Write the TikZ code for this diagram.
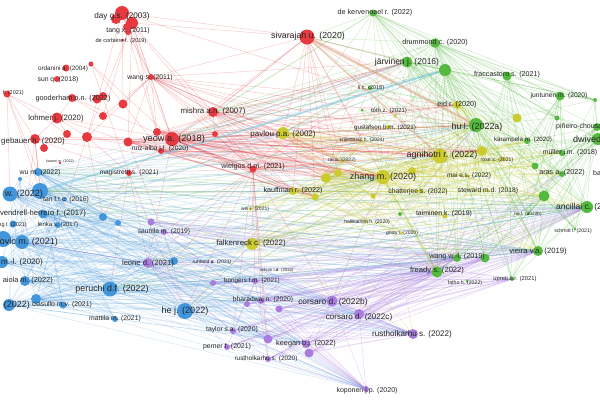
\documentclass[tikz,border=0pt]{standalone}
\usepackage{fontspec}
\setmainfont{Liberation Sans}
\definecolor{cR}{RGB}{231,58,64}
\definecolor{cG}{RGB}{84,186,62}
\definecolor{cB}{RGB}{66,150,220}
\definecolor{cY}{RGB}{203,203,45}
\definecolor{cP}{RGB}{170,124,224}
\definecolor{labc}{RGB}{38,38,38}
\definecolor{cT}{RGB}{120,200,215}
\definecolor{cO}{RGB}{232,170,140}
\tikzset{
  lab/.style={inner sep=0pt,text=labc},
  dot/.style={circle,inner sep=0pt,draw=none},
  eR/.style={draw=cR,line width=0.5pt,draw opacity=0.26},
  eG/.style={draw=cG,line width=0.5pt,draw opacity=0.26},
  eB/.style={draw=cB,line width=0.5pt,draw opacity=0.22},
  eY/.style={draw=cY,line width=0.5pt,draw opacity=0.3},
  eP/.style={draw=cP,line width=0.5pt,draw opacity=0.28},
}
\newcommand\vl[4]{\node[lab,font=\fontsize{#2}{#2}\selectfont] (#1-l) at (#3) {#4};}
\newcommand\vle[4]{\node[lab,anchor=east,font=\fontsize{#2}{#2}\selectfont] (#1-l) at (#3) {#4};}
\newcommand\vlw[4]{\node[lab,anchor=west,font=\fontsize{#2}{#2}\selectfont] (#1-l) at (#3) {#4};}
\begin{document}
\begin{tikzpicture}[x=1pt,y=-1pt]
\useasboundingbox (0,0) rectangle (600,400);
\fill[white] (0,0) rectangle (600,400);
\clip (0,0) rectangle (600,400);
% ---------- coordinates ----------
\foreach \n/\x/\y in {day/122/13,r1b/132/23,r1c/116/19,r1d/127/27,tang/128/32,decorb/123/40,ordanini/66/68,rsmall/91/64,sun/57/79,wangs/151/77,redf/7/94,good/72/98,g2/97/99,g3/103/96,r123/123/104,lohmer/57/118,r103/103/116,mishra/213/112,siva/307/37,gebauer/35/139,geb2/44/148,r67/67/134,r87/87/137,r128/128/142,yeow/172/139,r157/157/132,karanri/60/163,ruiz/161/151,magis/129/173,wielgos/253/169,r215/215/134,
pavlou/283/133,krij/362/141,rai/342/161,y326/326/178,y338/338/173,zhang/383/177,kauff/293/191,y315/315/197,y373/373/196,chatt/420/191,wei/250/209,halli/367/222,gnizy/402/233,falk/252/244,agni/440/156,y482/482/151,y412/412/171,rose/503/159,mai/469/176,steward/488/191,taim/445/216,eid/457/105,y517/517/118,toth/395/116,gust/388/127,wilson/277/270,
dekerv/373/13,jarv/407/62,g445/445/70,drum/435/43,licc/370/88,g362/362/110,fracc/507/76,junt/560/96,g595/595/100,pin/557/118,pin2/597/127,hula/476/125,karam/527/141,dwiv/598/139,muller/562/153,g535/535/166,aras/562/174,g544/544/196,anc/587/207,hulb/528/214,schmitt/575/229,g400/400/214,wangw/457/258,g485/485/258,vieira/538/251,fready/437/272,fatho/467/281,upreti/512/279,
wum/38/172,b10/10/194,b40/40/191,b20/20/179,tan/65/199,vend/43/214,b13/13/224,lenka/58/225,b103/103/217,b118/118/223,b3/3/239,b20b/22/242,bml/2/262,b174/174/261,paiola/25/281,b9/9/305,b36/36/299,ciasullo/63/305,peruchi/110/289,mattila/115/319,hej/185/311,
p151/151/222,saunila/164/232,leone/148/263,ruhland/212/262,bong1/213/283,bong/255/281,bhar1/247/304,bhar/261/301,p279/279/309,corsb/332/301,corsc/359/314,taylor/233/331,p268/268/339,keegan/306/344,keeg2/309/353,pemer/227/347,rust20/268/359,koponen/366/389,rust22/413/334}
  {\coordinate (\n) at (\x,\y);}
% ---------- connectors ----------
% green, dense right part
\foreach \a in {drum,jarv,g445,fracc,junt,hula,dwiv,anc,g544,pin2}{\foreach \b in {karam,muller,aras,g535,hulb,schmitt,vieira,wangw,g485,fready,upreti,pin,g595}{\draw[eG] (\a)--(\b);}}
\foreach \b in {g595,junt,fracc,drum,hula,g445,anc,dwiv,jarv}{\draw[eG] (dekerv)--(\b);}
\foreach \b in {junt,g595,fracc,pin,pin2,g445,jarv}{\draw[eG] (drum)--(\b);}
\foreach \b in {fracc,junt,g595,g445}{\draw[eG] (jarv)--(\b);}
\foreach \a in {jarv,g445,hula,drum,dekerv,licc}{\foreach \b in {agni,zhang,eid,y517,y482,rose,siva,mishra,pavlou,y326,yeow,chatt}{\draw[eG] (\a)--(\b);}}
\foreach \a in {hula,anc,g544,dwiv,vieira}{\foreach \b in {b40,wum,vend,peruchi,falk}{\draw[eG] (\a)--(\b);}}
\foreach \a in {g400,g362}{\foreach \b in {anc,hula,agni,zhang,fready}{\draw[eG] (\a)--(\b);}}
% yellow
\foreach \a in {pavlou,zhang,agni,y326,kauff,falk,y482,eid,y412}{\foreach \b in {hula,anc,g544,vieira,wangw,fready,karam,muller,g535,aras,rose,mai,steward}{\draw[eY] (\a)--(\b);}}
\foreach \a in {pavlou,zhang,agni,y326,y338,kauff,y315}{\foreach \b in {zhang,agni,y412,y373,chatt,taim,halli,gnizy,falk,wei,krij,rai,y482}{\draw[eY] (\a)--(\b);}}
\foreach \a in {falk,kauff,zhang}{\foreach \b in {b40,leone,corsb,rust22,hej}{\draw[eY] (\a)--(\b);}}
% red
\foreach \a in {yeow,wielgos,mishra,siva,r157,wangs,ruiz,r128}{\foreach \b in {pavlou,zhang,agni,y326,y338,kauff,hula,eid,jarv,y482,rai,krij,y315}{\draw[eR] (\a)--(\b);}}
\foreach \b in {wangs,r123,yeow,r157,r87,hula,mishra,wielgos}{\draw[eR] (day)--(\b);}
\foreach \b in {wangs,yeow,r128,r157,siva}{\draw[eR] (r1b)--(\b);}
\foreach \b in {wangs,r103,r87}{\draw[eR] (tang)--(\b);}
\foreach \b in {ruiz,yeow,magis}{\draw[eR] (rsmall)--(\b);}
\foreach \b in {yeow,r123,r103,mishra,r157,r128,wielgos,r87}{\draw[eR] (wangs)--(\b);}
\foreach \b in {gebauer,r67,b10,b40,wum,lohmer}{\draw[eR] (redf)--(\b);}
\foreach \b in {g2,r103,lohmer,yeow}{\draw[eR] (good)--(\b);}
\foreach \b in {gebauer,r87,r128,yeow,r67}{\draw[eR] (lohmer)--(\b);}
\foreach \b in {yeow,r87,wielgos,magis,b40,wum,vend,b20b}{\draw[eR] (gebauer)--(\b);}
\foreach \b in {yeow,r128,wielgos,magis,b103,lenka}{\draw[eR] (r87)--(\b);}
\foreach \b in {yeow,wielgos,ruiz,b174}{\draw[eR] (r128)--(\b);}
\foreach \b in {wielgos,ruiz,magis,mishra,r157,r215,leone}{\draw[eR] (yeow)--(\b);}
\foreach \b in {magis,ruiz,r215,falk,leone,bong,bhar,taylor,rust20,b174,hej,saunila,p268,corsb}{\draw[eR] (wielgos)--(\b);}
\foreach \b in {leone,b103,hej,peruchi}{\draw[eR] (magis)--(\b);}
\foreach \b in {wielgos,r215,siva}{\draw[eR] (mishra)--(\b);}
\foreach \b in {mishra,yeow,wangs,day}{\draw[eR] (siva)--(\b);}
% blue
\foreach \a in {b10,b40,b3,b20b,bml,vend,wum,paiola,b9,b36}{\foreach \b in {tan,lenka,b103,b118,peruchi,ciasullo,mattila,b13,b174,hej,b20}{\draw[eB] (\a)--(\b);}}
\foreach \a in {b40,b3,b20b,b10,peruchi,hej,bml,b9,vend,wum,b36,paiola}{\foreach \b in {leone,bong,bhar,corsb,corsc,rust22,keegan,falk,fready,vieira,zhang,anc,wangw,koponen,p268,saunila}{\draw[eB] (\a)--(\b);}}
\foreach \a in {b40,b10,wum,b3}{\foreach \b in {g445,jarv,hula,agni,pavlou,kauff}{\draw[eB] (\a)--(\b);}}
% purple
\foreach \a in {leone,bong,bhar,corsb,corsc,keegan,taylor,p268,rust20,pemer,saunila,p151,bhar1,bong1,keeg2,p279}{\foreach \b in {rust22,koponen,fready,wangw,vieira,anc,g485,upreti}{\draw[eP] (\a)--(\b);}}
\foreach \b in {bong1,bhar1,taylor,pemer,rust20,p268,corsb,peruchi,b3,b20b,hej,p151,saunila}{\draw[eP] (leone)--(\b);}
\foreach \b in {corsc,keegan,p268,bhar,bong,keeg2,p279}{\draw[eP] (corsb)--(\b);}
\foreach \b in {keegan,p268,rust20,taylor,pemer,bhar1}{\draw[eP] (bong)--(\b);}
\foreach \a in {corsb,corsc,bhar}{\foreach \b in {hula,g544,aras,zhang}{\draw[eP] (\a)--(\b);}}
% strong links
\draw[draw=cO,line width=3pt,draw opacity=0.45] (siva)--(hula);
\draw[draw=cO,line width=1.8pt,draw opacity=0.4] (siva)--(agni);
\draw[draw=cR,line width=1.4pt,draw opacity=0.35] (yeow)--(zhang);
\draw[draw=cR,line width=1.1pt,draw opacity=0.35] (yeow)--(agni);
\draw[draw=cR,line width=1.2pt,draw opacity=0.35] (yeow)--(wielgos);
\draw[draw=cY!70!cG,line width=2pt,draw opacity=0.35] (zhang)--(fready);
\draw[draw=cT,line width=2pt,draw opacity=0.5] (b40)--(g445);
% ---------- circles ----------
\foreach \n/\r in {day/7,r1b/6,r1c/5,r1d/4,tang/3,decorb/1.5,ordanini/3.5,rsmall/2.5,sun/3,wangs/3,redf/3.5,good/4,g2/4.5,g3/4,r123/4.5,lohmer/5.5,r103/4,mishra/5,siva/7.5,gebauer/5,geb2/4,r67/4,r87/5,r128/4.5,yeow/7,r157/4,karanri/1.3,ruiz/3,magis/3,wielgos/3.5,r215/3}
  {\node[dot,fill=cR,minimum size=\r*2pt] (\n-c) at (\n) {};}
\foreach \n/\r in {pavlou/6,krij/1.5,rai/1.5,y326/5,y338/4,zhang/7,kauff/4,y315/3.5,y373/2.5,chatt/2,wei/1.5,halli/1.5,gnizy/1.5,falk/6,agni/7.5,y482/5,y412/4,rose/2,mai/1.5,steward/1.5,taim/2.5,eid/4,y517/4.5,toth/1.5,gust/2,wilson/1.2}
  {\node[dot,fill=cY,minimum size=\r*2pt] (\n-c) at (\n) {};}
\foreach \n/\r in {dekerv/3.5,jarv/5.5,g445/6,drum/4.7,licc/2,g362/1.5,fracc/4.5,junt/4.5,g595/2,pin/2.5,pin2/4,hula/7,karam/3,dwiv/6,muller/3,g535/3.5,aras/3,g544/5.5,anc/6,hulb/1.5,schmitt/1.5,g400/2,wangw/4,g485/4.5,vieira/5,fready/5.5,fatho/1.5,upreti/2}
  {\node[dot,fill=cG,minimum size=\r*2pt] (\n-c) at (\n) {};}
\foreach \n/\r in {wum/4,b10/7.5,b40/8,b20/2,tan/2,vend/4.5,b13/3.5,lenka/3,b103/4,b118/3,b3/8,b20b/7,bml/6,b174/4,paiola/5,b9/6,b36/5,ciasullo/3.5,peruchi/7.5,mattila/3,hej/8}
  {\node[dot,fill=cB,minimum size=\r*2pt] (\n-c) at (\n) {};}
\foreach \n/\r in {p151/3.5,saunila/3,leone/5,ruhland/1.5,bong1/3,bong/3,bhar1/3,bhar/3,p279/3.5,corsb/5.5,corsc/5,taylor/3,p268/4.5,keegan/4,keeg2/4.5,pemer/3,rust20/3,koponen/3,rust22/5}
  {\node[dot,fill=cP,minimum size=\r*2pt] (\n-c) at (\n) {};}
% ---------- labels ----------
\vl{day}{8.2}{122,16}{day g.s. (2003)}
\vl{tang}{7}{128,31}{tang x. (2011)}
\vl{decorb}{5.6}{121,41}{de corbière f. (2019)}
\vl{ordanini}{6.3}{63,69}{ordanini a. (2004)}
\vl{sun}{6.8}{58,80}{sun q. (2018)}
\vl{wangs}{6.8}{150,78}{wang s. (2011)}
\vle{redf}{5.5}{24,93}{f. (2021)}
\vl{good}{7.3}{73,99}{gooderham p.n. (2022)}
\vl{lohmer}{7.8}{56,118}{lohmer j. (2020)}
\vl{mishra}{7.9}{213,111}{mishra a.n. (2007)}
\vl{siva}{8.8}{308,36}{sivarajah u. (2020)}
\vl{gebauer}{7.9}{33,141}{gebauer h. (2020)}
\vl{yeow}{9.2}{174,139}{yeow a. (2018)}
\vl{karanri}{3.6}{60,162}{karanri m. (2022)}
\vl{ruiz}{6.8}{160,149}{ruiz-alba j.l. (2020)}
\vl{magis}{6.6}{129,173}{magistretti s. (2021)}
\vl{wielgos}{7.2}{253,167}{wielgos d.m. (2021)}
\vl{pavlou}{8}{283,134}{pavlou p.a. (2002)}
\vl{krij}{5}{362,140}{krijestorac h. (2021)}
\vl{rai}{5}{342,160}{rai a. (2022)}
\vl{zhang}{9}{383,177}{zhang m. (2020)}
\vl{kauff}{7.2}{293,191}{kauffman r. (2022)}
\vl{chatt}{6.8}{418,192}{chatterjee s. (2022)}
\vl{wei}{5}{255,209}{wei r. (2021)}
\vl{halli}{5}{367,222}{hallikainen h. (2020)}
\vl{gnizy}{5}{402,233}{gnizy i. (2020)}
\vl{falk}{7.8}{251,243}{falkenreck c. (2022)}
\vl{agni}{8.9}{442,155}{agnihotri r. (2022)}
\vl{rose}{5.2}{497,160}{rose s. (2021)}
\vl{mai}{6.5}{469,176}{mai e.s. (2022)}
\vl{steward}{6.7}{488,191}{steward m.d. (2018)}
\vl{taim}{6.9}{444,214}{taiminen k. (2019)}
\vl{eid}{7.2}{457,105}{eid r. (2020)}
\vl{toth}{6}{389,111}{tóth z. (2021)}
\vl{gust}{6.3}{385,128}{gustafson b.m. (2021)}
\vl{wilson}{4.3}{277,270}{wilson r.d. (2022)}
\vl{dekerv}{7.2}{375,13}{de kervenoael r. (2022)}
\vl{jarv}{8.5}{407,62}{järvinen j. (2016)}
\vl{drum}{7.2}{435,43}{drummond c. (2020)}
\vl{licc}{5.5}{371,88}{li c. (2018)}
\vl{fracc}{7.1}{507,75}{fraccastoro s. (2021)}
\vl{junt}{6.7}{559,96}{juntunen m. (2020)}
\vlw{pin2}{7}{556,127}{piñeiro-chousa}
\vl{hula}{8.9}{477,127}{hu l. (2022a)}
\vl{karam}{6.2}{523,140}{karampela m. (2020)}
\vlw{dwiv}{9}{573,139}{dwivedi}
\vl{muller}{6.9}{570,153}{müller j.m. (2018)}
\vl{aras}{7.2}{562,173}{aras a. (2022)}
\vlw{ba}{7}{593,173}{ba}
\vlw{anc}{8.5}{556,207}{ancillai c. (20}
\vl{hulb}{4.8}{528,214}{hu l. (2022b)}
\vl{schmitt}{5.2}{573,231}{schmitt l. (2021)}
\vl{wangw}{7.2}{457,257}{wang w.-l. (2019)}
\vl{vieira}{7.7}{538,252}{vieira v.a. (2019)}
\vl{fready}{7.6}{437,271}{fready s. (2022)}
\vl{fatho}{5.2}{465,283}{fatho h. (2022)}
\vl{upreti}{5.8}{515,279}{upreti b.r. (2021)}
\vl{wum}{6.9}{40,173}{wu m. (2022)}
\vle{b40}{9}{43,194}{w. (2022)}
\vl{tan}{6.7}{66,200}{tan f.t.c. (2016)}
\vl{vend}{7.7}{43,214}{vendrell-herrero f. (2017)}
\vle{b13}{5.5}{27,225}{ng l. (2021)}
\vl{lenka}{6}{58,225}{lenka s. (2017)}
\vle{b20b}{9}{58,242}{ovic m. (2021)}
\vle{bml}{8}{43,262}{a m.-l. (2020)}
\vle{paiola}{7.4}{53,281}{aiola m. (2022)}
\vle{b9}{9}{30,305}{r. (2022)}
\vl{ciasullo}{6.9}{62,305}{ciasullo m.v. (2021)}
\vl{peruchi}{8.9}{112,289}{peruchi d.f. (2022)}
\vl{mattila}{6.8}{115,319}{mattila m. (2021)}
\vl{hej}{9.1}{185,311}{he j. (2022)}
\vl{saunila}{6.7}{164,232}{saunila m. (2019)}
\vl{leone}{7.6}{148,264}{leone d. (2021)}
\vl{ruhland}{5}{212,262}{ruhland a. (2021)}
\vl{bong}{6.3}{252,281}{bongers f.m. (2021)}
\vl{bhar}{6.7}{263,300}{bharadwaj n. (2020)}
\vl{corsb}{8.4}{333,302}{corsaro d. (2022b)}
\vl{corsc}{8.1}{359,317}{corsaro d. (2022c)}
\vl{taylor}{6.8}{232,330}{taylor s.a. (2020)}
\vl{keegan}{7.3}{306,344}{keegan b.j. (2022)}
\vl{pemer}{6.9}{227,347}{pemer f. (2021)}
\vl{rust20}{6.4}{266,359}{rustholkarhu s. (2020)}
\vl{koponen}{7}{367,391}{koponen j.p. (2020)}
\vl{rust22}{8.1}{412,334}{rustholkarhu s. (2022)}
\end{tikzpicture}
\end{document}
